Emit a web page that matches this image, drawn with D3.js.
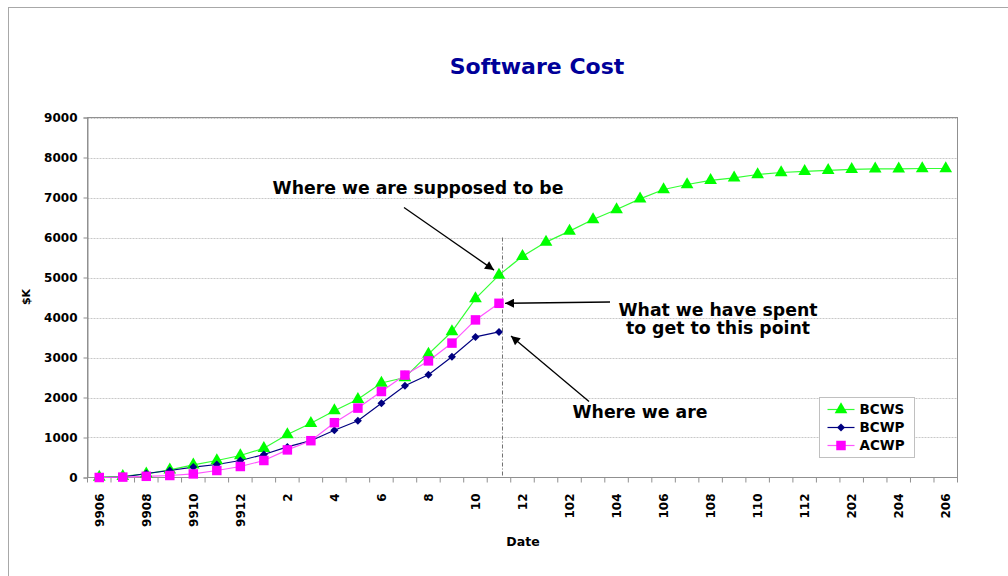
<!DOCTYPE html>
<html>
<head>
<meta charset="utf-8">
<script src="https://cdn.jsdelivr.net/npm/d3@7"></script>
<style>
  body { margin: 0; background: #fff; }
  text { font-family: "DejaVu Sans", Verdana, sans-serif; font-weight: bold; }
</style>
</head>
<body>
<div id="chart"></div>
<script>
// Software cost - earned value chart

var dates = ["9906","9907","9908","9909","9910","9911","9912",
  "1","2","3","4","5","6","7","8","9","10","11","12",
  "101","102","103","104","105","106","107","108","109","110","111","112",
  "201","202","203","204","205","206"];

var bcws = [10, 30, 90, 190, 315, 425, 550, 730, 1075, 1355, 1670, 1955, 2362, 2500, 3085, 3650,
  4470, 5060, 5530, 5885, 6160, 6450, 6700, 6965, 7200, 7325, 7430, 7490, 7575, 7625, 7655,
  7680, 7705, 7715, 7715, 7725, 7725];
var bcwp = [0, 10, 100, 175, 260, 325, 425, 575, 765, 920, 1180, 1420, 1855, 2295, 2570, 3020, 3515, 3640];
var acwp = [0, 10, 30, 50, 90, 175, 275, 425, 690, 920, 1370, 1735, 2150, 2560, 2915, 3360, 3940, 4355];

var yTicks = [0, 1000, 2000, 3000, 4000, 5000, 6000, 7000, 8000, 9000];
var xLabels = dates.filter((d, i) => i % 2 == 0);

var width = 1008, height = 576;
var margin = {top: 117.5, right: 50.5, bottom: 98.5, left: 87.5};

var x = d3.scaleBand()
  .domain(dates)
  .range([margin.left, width - margin.right]);

var y = d3.scaleLinear()
  .domain([0, 9000])
  .range([height - margin.bottom, margin.top]);

var cx = d => x(d) + x.bandwidth() / 2;

var svg = d3.select('#chart')
  .append('svg')
    .attr('width', width)
    .attr('height', height);

svg.append('rect')
  .attr('x', 8.5).attr('y', 7.5)
  .attr('width', 1200).attr('height', 1000)
  .attr('fill', 'none')
  .attr('stroke', '#a8a8a8');

svg.append('defs').append('marker')
    .attr('id', 'arrow')
    .attr('viewBox', '0 0 10 10')
    .attr('refX', 10).attr('refY', 5)
    .attr('markerWidth', 11).attr('markerHeight', 9)
    .attr('markerUnits', 'userSpaceOnUse')
    .attr('orient', 'auto')
  .append('path')
    .attr('d', 'M0,0L10,5L0,10Z')
    .attr('fill', '#000');

// title
svg.append('text')
  .attr('x', 537).attr('y', 74)
  .attr('text-anchor', 'middle')
  .attr('fill', '#000099')
  .style('font-size', '22px')
  .text('Software Cost');

// gridlines
svg.append('g')
  .selectAll('line')
  .data(yTicks.slice(1))
  .join('line')
    .attr('x1', margin.left).attr('x2', width - margin.right)
    .attr('y1', d => Math.round(y(d)) + 0.5).attr('y2', d => Math.round(y(d)) + 0.5)
    .attr('stroke', '#c8c8c8')
    .attr('stroke-dasharray', '2,1');

// plot frame
svg.append('rect')
  .attr('x', margin.left).attr('y', margin.top)
  .attr('width', width - margin.right - margin.left)
  .attr('height', height - margin.bottom - margin.top)
  .attr('fill', 'none')
  .attr('stroke', '#909090');

// y axis
var yAxis = g => g
  .attr('transform', 'translate(' + margin.left + ',0)')
  .call(d3.axisLeft(y).tickValues(yTicks).tickFormat(d3.format('d')).tickSize(4).tickPadding(6))
  .call(g => g.select('.domain').attr('stroke', '#909090'))
  .call(g => g.selectAll('.tick line').attr('stroke', '#909090'))
  .call(g => g.selectAll('.tick text')
    .style('font-size', '12px')
    .style('font-family', '"DejaVu Sans", sans-serif')
    .style('font-weight', 'bold')
    .attr('fill', '#000'));
svg.append('g').call(yAxis);

// x axis ticks at category boundaries
var xg = svg.append('g');
xg.selectAll('line')
  .data(dates.concat(['end']))
  .join('line')
    .attr('x1', d => d == 'end' ? x.range()[1] : x(d))
    .attr('x2', d => d == 'end' ? x.range()[1] : x(d))
    .attr('y1', y(0)).attr('y2', y(0) + 5)
    .attr('stroke', '#909090');
xg.selectAll('text')
  .data(xLabels)
  .join('text')
    .attr('transform', d => 'translate(' + (cx(d) + 4.5) + ',' + (y(0) + 16) + ') rotate(-90)')
    .attr('text-anchor', 'end')
    .style('font-size', '12px')
    .text(d => d);

// axis titles
svg.append('text')
  .attr('x', 523).attr('y', 546)
  .attr('text-anchor', 'middle')
  .style('font-size', '12.5px')
  .text('Date');
svg.append('text')
  .attr('transform', 'translate(30,297) rotate(-90)')
  .attr('text-anchor', 'middle')
  .style('font-size', '11px')
  .text('$K');

// "now" line
var now = dates[bcwp.length - 1];
svg.append('line')
  .attr('x1', cx(now) + 3.5).attr('x2', cx(now) + 3.5)
  .attr('y1', y(6000)).attr('y2', y(0))
  .attr('stroke', '#707070')
  .attr('stroke-dasharray', '4,2,1,2');

// series
var series = [
  {name: 'BCWS', values: bcws, color: '#00ff00', line: '#33ff33', shape: d3.symbolTriangle, size: 70, rot: 0},
  {name: 'BCWP', values: bcwp, color: '#000080', line: '#000080', shape: d3.symbolSquare, size: 32, rot: 45},
  {name: 'ACWP', values: acwp, color: '#ff00ff', line: '#ff55ff', shape: d3.symbolSquare, size: 90, rot: 0}
];

var line = d3.line()
  .x((d, i) => cx(dates[i]))
  .y(d => y(d));

series.forEach(s => {
  svg.append('path')
    .attr('d', line(s.values))
    .attr('fill', 'none')
    .attr('stroke', s.line)
    .attr('stroke-width', 1.2);
});
series.forEach(s => {
  svg.append('g')
    .selectAll('path')
    .data(s.values)
    .join('path')
      .attr('transform', (d, i) => 'translate(' + cx(dates[i]) + ',' + y(d) + ') rotate(' + s.rot + ')')
      .attr('d', d3.symbol().type(s.shape).size(s.size))
      .attr('fill', s.color);
});

// legend
var legend = svg.append('g').attr('transform', 'translate(819.5,397.5)');
legend.append('rect')
  .attr('width', 95).attr('height', 60)
  .attr('fill', '#fff')
  .attr('stroke', '#c0c0c0');
var item = legend.selectAll('g')
  .data(series)
  .join('g')
    .attr('transform', (d, i) => 'translate(0,' + (12 + i * 18) + ')');
item.append('line')
  .attr('x1', 8).attr('x2', 35)
  .attr('stroke', d => d.line)
  .attr('stroke-width', 1.2);
item.append('path')
  .attr('transform', d => 'translate(21.5,0) rotate(' + d.rot + ')')
  .attr('d', d => d3.symbol().type(d.shape).size(d.size)())
  .attr('fill', d => d.color);
item.append('text')
  .attr('x', 40).attr('dy', '0.36em')
  .style('font-size', '13.5px')
  .text(d => d.name);

// annotations
var last = bcwp.length - 1;
var notes = [
  {lines: ['Where we are supposed to be'], tx: 418, ty: 194,
   from: [404, 207.5], to: [cx(now) - 5, y(bcws[last]) - 5]},
  {lines: ['What we have spent', 'to get to this point'], tx: 718, ty: 316,
   from: [610, 302], to: [cx(now) + 6, y(acwp[last])]},
  {lines: ['Where we are'], tx: 640, ty: 418,
   from: [589, 401.5], to: [cx(now) + 12, y(bcwp[last]) + 4]}
];

notes.forEach(n => {
  svg.append('line')
    .attr('x1', n.from[0]).attr('y1', n.from[1])
    .attr('x2', n.to[0]).attr('y2', n.to[1])
    .attr('stroke', '#000')
    .attr('stroke-width', 1.3)
    .attr('marker-end', 'url(#arrow)');
  n.lines.forEach((t, i) => {
    svg.append('text')
      .attr('x', n.tx).attr('y', n.ty + i * 18)
      .attr('text-anchor', 'middle')
      .style('font-size', '17.3px')
      .text(t);
  });
});
</script>
</body>
</html>
